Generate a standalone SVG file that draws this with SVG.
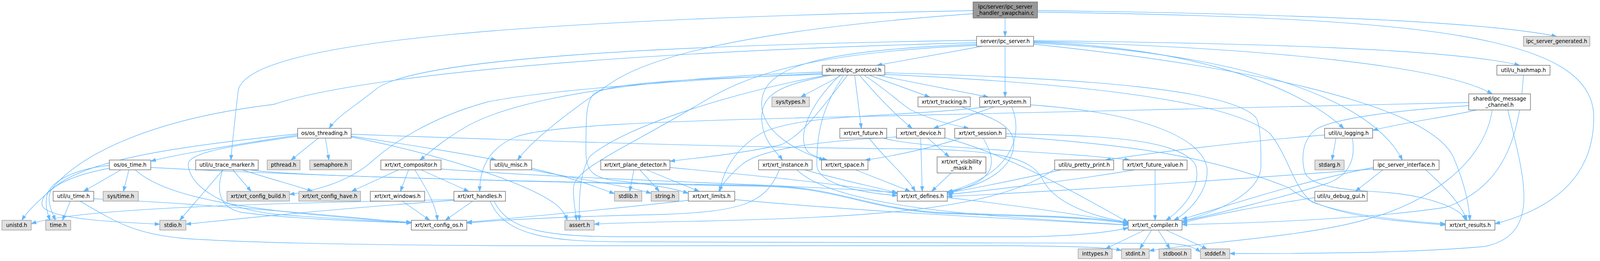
<svg xmlns="http://www.w3.org/2000/svg" width="4250" height="667" viewBox="0 0 4250 667">
<style>
.nw rect{fill:#ffffff;stroke:#666666;stroke-width:1.33}
.ng rect{fill:#e0e0e0;stroke:#999999;stroke-width:1.33}
.nm rect{fill:#999999;stroke:#666666;stroke-width:1.33}
text{font-family:"DejaVu Sans","Liberation Sans",sans-serif;font-size:13.33px;text-anchor:middle;fill:#000000}
#edges path{fill:none;stroke:#63b8ff;stroke-width:1.33;marker-end:url(#arr)}
</style>
<defs>
<marker id="arr" markerWidth="14" markerHeight="10" refX="13" refY="5" orient="auto" markerUnits="userSpaceOnUse"><path d="M0,0.5 L13,5 L0,9.5 z" fill="#63b8ff" stroke="#63b8ff" stroke-width="1"/></marker>
</defs>
<rect x="0" y="0" width="4250" height="667" fill="#ffffff"/>
<g id="edges">
<path d="M2573,46 L2573,93"/>
<path d="M2656,27 C3300,35 3800,55 3985,93"/>
<path d="M2656,31 C3650,45 4080,90 4080,300 C4080,470 3950,540 3827,572"/>
<path d="M2491,27 C1400,50 640,100 610,230 C602,300 595,360 591,409"/>
<path d="M2491,35 C2000,70 1680,130 1560,215 C1450,290 1360,360 1325,409"/>
<path d="M2515,118 L2245,167"/>
<path d="M2573,118 L2573,248"/>
<path d="M2500,103 C1700,115 1050,150 960,230 C910,270 860,300 843,328"/>
<path d="M2500,109 C1500,135 900,200 700,267 C420,300 220,380 135,480 C115,505 132,540 142,563"/>
<path d="M2646,108 C3000,118 3300,200 3440,328"/>
<path d="M2646,110 C3100,130 3500,230 3590,409"/>
<path d="M2646,104 C3200,110 3720,125 3890,167"/>
<path d="M2646,106 C3250,122 3700,170 3820,240"/>
<path d="M2646,113 C3150,165 3650,260 3720,400 C3750,470 3760,520 3763,563"/>
<path d="M2500,113 C2100,128 1955,170 1950,260 C1945,340 2050,390 2110,409"/>
<path d="M2500,116 C2050,135 1900,200 1800,260 C1600,380 1470,430 1468,480 C1467,510 1473,540 1476,563"/>
<path d="M2155,192 L2050,248"/>
<path d="M2225,192 L2380,248"/>
<path d="M2245,192 L2530,248"/>
<path d="M2188,192 L2205,328"/>
<path d="M2200,192 C2250,250 2300,300 2335,328"/>
<path d="M2212,192 C2270,230 2300,260 2330,280 C2380,305 2440,320 2480,328"/>
<path d="M2105,184 C1700,198 1350,240 1200,320 C1130,360 1100,390 1075,409"/>
<path d="M2105,187 C1750,205 1400,230 1250,260 C1100,300 1000,370 955,410 C900,460 820,485 741,497"/>
<path d="M2105,190 C1800,200 1560,210 1520,240 C1500,260 1500,300 1500,387 C1500,440 1520,455 1580,462 C1660,470 1720,480 1762,494"/>
<path d="M2118,192 C1900,230 1600,320 1510,400 C1485,440 1482,500 1483,563"/>
<path d="M2130,192 C2000,215 1950,240 1950,300 C1950,360 1990,390 2003,409"/>
<path d="M2170,192 C2100,280 2060,340 2000,370 C1900,392 1800,402 1715,412"/>
<path d="M2150,192 C2060,280 2040,360 2070,390 C2085,400 2100,405 2118,409"/>
<path d="M2160,192 C2100,280 2091,350 2091,420 C2091,470 2200,492 2297,500"/>
<path d="M2265,186 C2800,200 3150,230 3215,300 C3228,320 3228,380 3228,423 C3228,500 3100,545 3026,566"/>
<path d="M2265,190 C2800,215 3150,260 3250,340 C3300,400 3310,480 3360,517 C3450,550 3600,565 3700,572"/>
<path d="M2225,353 C2260,400 2320,450 2343,489"/>
<path d="M2262,353 C2350,380 2700,385 2892,409"/>
<path d="M2357,353 L2361,489"/>
<path d="M2375,353 L2430,401"/>
<path d="M2295,350 C2100,360 1950,380 1900,420 C1870,445 1850,470 1840,489"/>
<path d="M2419,352 C2600,400 2800,520 2888,568"/>
<path d="M2460,353 C2380,380 2280,400 2215,409"/>
<path d="M2517,353 C2550,410 2560,460 2428,493"/>
<path d="M2575,342 C2850,345 3020,360 3060,420 C3080,480 3020,540 2985,563"/>
<path d="M2575,348 C2900,370 3100,400 3300,480 C3400,560 3600,565 3700,575"/>
<path d="M2545,273 L2390,328"/>
<path d="M2590,273 C2615,330 2610,440 2425,491"/>
<path d="M2528,273 C2300,300 2050,290 1950,340 C1880,380 1850,440 1843,489"/>
<path d="M2638,268 C2950,290 3080,360 3090,430 C3095,490 3040,545 3005,563"/>
<path d="M2462,273 C2540,300 2590,320 2595,360 C2600,430 2520,475 2425,490"/>
<path d="M3420,353 L3410,409"/>
<path d="M3391,345 C3200,360 2950,390 2830,409"/>
<path d="M3462,353 C3470,400 3460,445 3400,468 C3300,500 3100,550 3026,566"/>
<path d="M3540,434 L3470,489"/>
<path d="M3650,434 C3700,480 3740,520 3755,563"/>
<path d="M3516,428 C3300,470 3100,540 3026,560"/>
<path d="M3516,432 C3200,455 2700,490 2425,502"/>
<path d="M3366,505 C3200,530 3080,555 3026,570"/>
<path d="M3780,281 C3700,300 3600,312 3514,333"/>
<path d="M3760,262 C3300,268 2700,290 2100,300 C1700,310 1400,320 1320,350 C1250,380 1228,430 1228,489"/>
<path d="M3760,270 C3600,280 3420,300 3370,330 C3335,355 3330,400 3340,440 C3355,480 3450,485 3550,492 C3650,500 3740,530 3752,563"/>
<path d="M3860,281 C3900,450 3950,600 3800,630 C3600,648 3300,648 3148,648"/>
<path d="M3820,281 C3800,420 3650,520 3500,560 C3350,605 3050,622 2942,641"/>
<path d="M2957,434 L2957,563"/>
<path d="M2905,434 C2750,460 2550,485 2425,497"/>
<path d="M2717,434 C2600,460 2500,480 2425,493"/>
<path d="M2700,432 C2550,540 2200,555 1800,565 C1650,568 1560,570 1521,573"/>
<path d="M2436,441 L2385,489"/>
<path d="M2190,434 L2330,489"/>
<path d="M1995,434 C1960,520 1900,540 1700,548 C1500,552 1300,560 1195,570"/>
<path d="M2060,434 C2150,460 2250,480 2297,493"/>
<path d="M2040,434 C2150,540 2600,555 2888,575"/>
<path d="M1623,434 L1612,489"/>
<path d="M1638,434 L1688,489"/>
<path d="M1655,434 L1790,489"/>
<path d="M1715,428 C1950,450 2150,470 2297,495"/>
<path d="M1762,512 C1600,530 1400,550 1195,568"/>
<path d="M1881,510 C2200,540 2600,560 2888,575"/>
<path d="M1361,430 C1450,450 1520,475 1573,495"/>
<path d="M1361,434 C1480,458 1600,474 1667,494"/>
<path d="M1020,434 L900,489"/>
<path d="M1046,434 L1025,489"/>
<path d="M1062,434 C1090,480 1115,520 1120,563"/>
<path d="M1078,434 L1200,489"/>
<path d="M1129,432 C1500,460 2000,470 2297,492"/>
<path d="M1210,514 L1140,563"/>
<path d="M1162,510 C700,520 200,530 80,572"/>
<path d="M1162,512 C900,530 600,560 476,573"/>
<path d="M1265,514 C1300,590 1400,605 1600,605 L2600,605 C2750,605 2850,592 2888,582"/>
<path d="M1255,514 C1290,600 1400,618 1600,618 L2990,622 C3035,624 3058,632 3073,644"/>
<path d="M180,514 L160,563"/>
<path d="M205,514 C300,570 350,600 480,610 C700,625 1200,628 1400,628 L2600,628 C2780,630 2840,633 2871,640"/>
<path d="M240,508 C500,520 800,545 1053,570"/>
<path d="M310,434 L214,489"/>
<path d="M330,434 L316,489"/>
<path d="M280,423 C200,430 130,460 120,500 C115,530 122,545 128,563"/>
<path d="M280,430 C170,450 100,490 108,525 C120,560 300,568 409,573"/>
<path d="M346,434 C420,500 600,540 1053,568"/>
<path d="M386,428 C900,455 1500,468 1950,476 C2150,480 2200,530 2400,545 L2700,555 C2800,560 2860,566 2888,572"/>
<path d="M571,434 L460,563"/>
<path d="M596,434 L643,489"/>
<path d="M620,434 C700,460 760,475 800,489"/>
<path d="M570,434 C555,480 555,530 620,543 C750,560 950,566 1053,570"/>
<path d="M640,434 C700,445 1000,458 1950,474 C2150,478 2200,528 2400,543 L2700,553 C2800,558 2860,564 2888,570"/>
<path d="M815,353 L745,409"/>
<path d="M833,353 L842,409"/>
<path d="M899,348 C1050,370 1200,395 1270,409"/>
<path d="M762,345 C600,370 450,395 386,412"/>
<path d="M762,342 C500,370 250,400 150,470 C100,510 70,540 56,563"/>
<path d="M762,348 C600,372 490,388 482,417 C480,470 560,530 700,547 C850,560 1000,565 1053,570"/>
<path d="M899,350 C1150,400 1350,470 1420,520 C1440,535 1448,550 1452,563"/>
<path d="M899,343 C1500,365 2000,378 2300,380 C2550,382 2640,400 2670,460 C2700,520 2800,555 2888,568"/>
<path d="M1030,514 L1100,563"/>
<path d="M2930,588 L2830,636"/>
<path d="M2948,588 L2918,636"/>
<path d="M2965,588 L2995,636"/>
<path d="M2985,588 L3090,636"/>
<path d="M2425,505 C2650,530 2800,555 2888,570"/>
<path d="M3900,192 C3890,350 3850,480 3700,530 C3500,560 3200,570 3026,574"/>
</g>
<g id="node-swapchain" class="nm"><rect x="2491" y="5" width="165" height="41"/><text x="2573.5" y="22">ipc/server/ipc_server</text><text x="2573.5" y="38">_handler_swapchain.c</text></g>
<g id="node-ipc_server" class="nw"><rect x="2500" y="93" width="146" height="25"/><text x="2573" y="110">server/ipc_server.h</text></g>
<g id="node-ipc_server_generated" class="ng"><rect x="3900" y="93" width="170" height="25"/><text x="3985" y="110">ipc_server_generated.h</text></g>
<g id="node-ipc_protocol" class="nw"><rect x="2105" y="167" width="160" height="25"/><text x="2185" y="184">shared/ipc_protocol.h</text></g>
<g id="node-u_hashmap" class="nw"><rect x="3832" y="167" width="136" height="25"/><text x="3900" y="184">util/u_hashmap.h</text></g>
<g id="node-sys_types" class="ng"><rect x="1976" y="248" width="96" height="25"/><text x="2024" y="265">sys/types.h</text></g>
<g id="node-xrt_tracking" class="nw"><rect x="2350" y="248" width="134" height="25"/><text x="2417" y="265">xrt/xrt_tracking.h</text></g>
<g id="node-xrt_system" class="nw"><rect x="2508" y="248" width="130" height="25"/><text x="2573" y="265">xrt/xrt_system.h</text></g>
<g id="node-ipc_message_channel" class="nw"><rect x="3760" y="240" width="158" height="41"/><text x="3839" y="257">shared/ipc_message</text><text x="3839" y="273">_channel.h</text></g>
<g id="node-os_threading" class="nw"><rect x="762" y="328" width="137" height="25"/><text x="830.5" y="345">os/os_threading.h</text></g>
<g id="node-xrt_future" class="nw"><rect x="2150" y="328" width="120" height="25"/><text x="2210" y="345">xrt/xrt_future.h</text></g>
<g id="node-xrt_device" class="nw"><rect x="2295" y="328" width="124" height="25"/><text x="2357" y="345">xrt/xrt_device.h</text></g>
<g id="node-xrt_session" class="nw"><rect x="2444" y="328" width="131" height="25"/><text x="2509.5" y="345">xrt/xrt_session.h</text></g>
<g id="node-u_logging" class="nw"><rect x="3391" y="328" width="123" height="25"/><text x="3452.5" y="345">util/u_logging.h</text></g>
<g id="node-os_time" class="nw"><rect x="280" y="409" width="106" height="25"/><text x="333" y="426">os/os_time.h</text></g>
<g id="node-u_trace_marker" class="nw"><rect x="501" y="409" width="160" height="25"/><text x="581" y="426">util/u_trace_marker.h</text></g>
<g id="node-pthread" class="ng"><rect x="684" y="409" width="84" height="25"/><text x="726" y="426">pthread.h</text></g>
<g id="node-semaphore" class="ng"><rect x="793" y="409" width="107" height="25"/><text x="846.5" y="426">semaphore.h</text></g>
<g id="node-xrt_compositor" class="nw"><rect x="975" y="409" width="154" height="25"/><text x="1052" y="426">xrt/xrt_compositor.h</text></g>
<g id="node-u_misc" class="nw"><rect x="1255" y="409" width="106" height="25"/><text x="1308" y="426">util/u_misc.h</text></g>
<g id="node-xrt_plane_detector" class="nw"><rect x="1538" y="409" width="177" height="25"/><text x="1626.5" y="426">xrt/xrt_plane_detector.h</text></g>
<g id="node-xrt_instance" class="nw"><rect x="1942" y="409" width="137" height="25"/><text x="2010.5" y="426">xrt/xrt_instance.h</text></g>
<g id="node-xrt_space" class="nw"><rect x="2103" y="409" width="119" height="25"/><text x="2162.5" y="426">xrt/xrt_space.h</text></g>
<g id="node-xrt_visibility_mask" class="nw"><rect x="2399" y="401" width="125" height="41"/><text x="2461.5" y="418">xrt/xrt_visibility</text><text x="2461.5" y="434">_mask.h</text></g>
<g id="node-u_pretty_print" class="nw"><rect x="2700" y="409" width="151" height="25"/><text x="2775.5" y="426">util/u_pretty_print.h</text></g>
<g id="node-xrt_future_value" class="nw"><rect x="2875" y="409" width="164" height="25"/><text x="2957" y="426">xrt/xrt_future_value.h</text></g>
<g id="node-stdarg" class="ng"><rect x="3366" y="409" width="75" height="25"/><text x="3403.5" y="426">stdarg.h</text></g>
<g id="node-ipc_server_interface" class="nw"><rect x="3516" y="409" width="168" height="25"/><text x="3600" y="426">ipc_server_interface.h</text></g>
<g id="node-u_time" class="nw"><rect x="136" y="489" width="104" height="25"/><text x="188" y="506">util/u_time.h</text></g>
<g id="node-sys_time" class="ng"><rect x="264" y="489" width="90" height="25"/><text x="309" y="506">sys/time.h</text></g>
<g id="node-xrt_config_build" class="ng"><rect x="581" y="489" width="160" height="25"/><text x="661" y="506">xrt/xrt_config_build.h</text></g>
<g id="node-xrt_config_have" class="ng"><rect x="765" y="489" width="158" height="25"/><text x="844" y="506">xrt/xrt_config_have.h</text></g>
<g id="node-xrt_windows" class="nw"><rect x="948" y="489" width="139" height="25"/><text x="1017.5" y="506">xrt/xrt_windows.h</text></g>
<g id="node-xrt_handles" class="nw"><rect x="1162" y="489" width="132" height="25"/><text x="1228" y="506">xrt/xrt_handles.h</text></g>
<g id="node-stdlib" class="ng"><rect x="1573" y="489" width="70" height="25"/><text x="1608" y="506">stdlib.h</text></g>
<g id="node-string" class="ng"><rect x="1667" y="489" width="71" height="25"/><text x="1702.5" y="506">string.h</text></g>
<g id="node-xrt_limits" class="nw"><rect x="1762" y="489" width="119" height="25"/><text x="1821.5" y="506">xrt/xrt_limits.h</text></g>
<g id="node-xrt_defines" class="nw"><rect x="2297" y="489" width="128" height="25"/><text x="2361" y="506">xrt/xrt_defines.h</text></g>
<g id="node-u_debug_gui" class="nw"><rect x="3366" y="489" width="134" height="25"/><text x="3433" y="506">util/u_debug_gui.h</text></g>
<g id="node-unistd" class="ng"><rect x="5" y="563" width="75" height="25"/><text x="42.5" y="580">unistd.h</text></g>
<g id="node-time" class="ng"><rect x="117" y="563" width="64" height="25"/><text x="149" y="580">time.h</text></g>
<g id="node-stdio" class="ng"><rect x="409" y="563" width="67" height="25"/><text x="442.5" y="580">stdio.h</text></g>
<g id="node-xrt_config_os" class="nw"><rect x="1053" y="563" width="142" height="25"/><text x="1124" y="580">xrt/xrt_config_os.h</text></g>
<g id="node-assert" class="ng"><rect x="1446" y="563" width="75" height="25"/><text x="1483.5" y="580">assert.h</text></g>
<g id="node-xrt_compiler" class="nw"><rect x="2888" y="563" width="138" height="25"/><text x="2957" y="580">xrt/xrt_compiler.h</text></g>
<g id="node-xrt_results" class="nw"><rect x="3700" y="563" width="127" height="25"/><text x="3763.5" y="580">xrt/xrt_results.h</text></g>
<g id="node-inttypes" class="ng"><rect x="2760" y="636" width="87" height="25"/><text x="2803.5" y="653">inttypes.h</text></g>
<g id="node-stdint" class="ng"><rect x="2871" y="636" width="71" height="25"/><text x="2906.5" y="653">stdint.h</text></g>
<g id="node-stdbool" class="ng"><rect x="2967" y="636" width="82" height="25"/><text x="3008" y="653">stdbool.h</text></g>
<g id="node-stddef" class="ng"><rect x="3073" y="636" width="75" height="25"/><text x="3110.5" y="653">stddef.h</text></g>
</svg>
